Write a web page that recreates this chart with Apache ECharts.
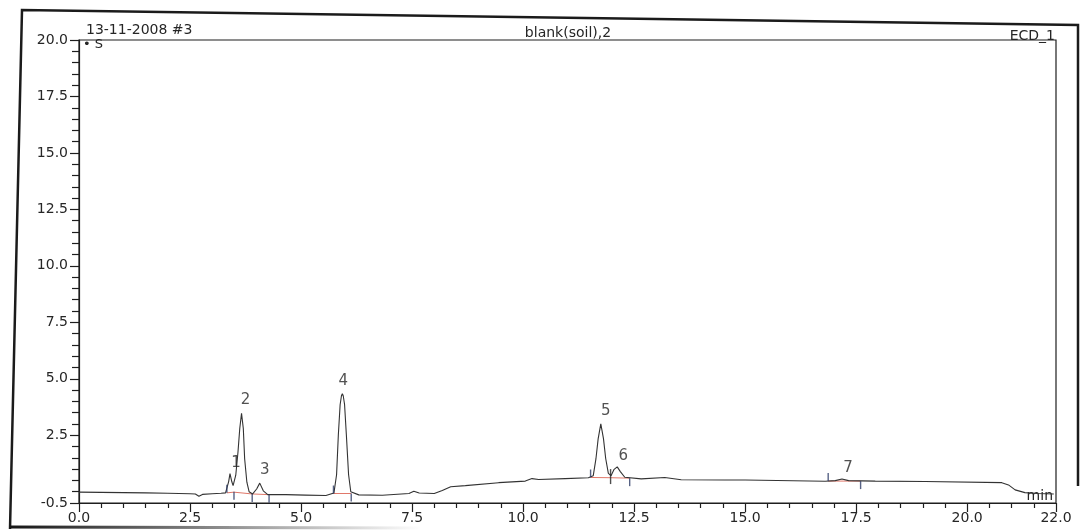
<!DOCTYPE html>
<html>
<head>
<meta charset="utf-8">
<title>blank(soil),2</title>
<script src="https://cdn.jsdelivr.net/npm/echarts@6/dist/echarts.min.js"></script>
<style>
html, body { margin: 0; padding: 0; background: #fff; }
#chromatogram { width: 1081px; height: 530px; }
</style>
</head>
<body>
<div id="chromatogram"></div>
<script>
// trace (min / signal)
var retentionTime = [0.00, 0.50, 1.00, 1.50, 2.00, 2.50, 2.62, 2.70, 2.78, 3.00, 3.20, 3.30,
    3.37, 3.40, 3.44, 3.47, 3.53, 3.58, 3.62, 3.66, 3.70, 3.73, 3.78, 3.83, 3.91,
    4.00, 4.07, 4.15, 4.25, 4.66, 5.10, 5.56, 5.74, 5.80, 5.84, 5.88, 5.91, 5.93, 5.95,
    5.98, 6.02, 6.07, 6.12, 6.30, 6.83, 7.43, 7.54, 7.66, 8.00, 8.18, 8.37, 8.70,
    9.45, 10.05, 10.20, 10.35, 10.95, 11.47, 11.58, 11.64, 11.69, 11.75, 11.81, 11.86,
    11.92, 11.98, 12.05, 12.12, 12.19, 12.29, 12.66, 13.19, 13.56, 14.53, 15.00, 16.80,
    17.03, 17.18, 17.33, 17.93, 19.05, 20.78, 20.93, 21.08, 21.30, 21.60, 21.95];
var signal = [-0.02, -0.03, -0.04, -0.05, -0.07, -0.09, -0.10, -0.20, -0.12, -0.09, -0.07, -0.05,
    0.45, 0.80, 0.45, 0.27, 0.73, 1.76, 2.80, 3.47, 2.80, 1.46, 0.42, 0.00, -0.10,
    0.12, 0.38, 0.04, -0.13, -0.13, -0.15, -0.17, -0.06, 0.75, 2.52, 3.85, 4.25, 4.34, 4.25,
    3.86, 2.53, 0.76, 0.00, -0.14, -0.16, -0.08, 0.02, -0.06, -0.08, 0.05, 0.22, 0.27,
    0.40, 0.47, 0.58, 0.54, 0.58, 0.62, 0.71, 1.45, 2.34, 3.00, 2.35, 1.47,
    0.81, 0.71, 0.99, 1.10, 0.89, 0.64, 0.57, 0.63, 0.53, 0.52, 0.52, 0.46,
    0.49, 0.56, 0.49, 0.47, 0.45, 0.40, 0.30, 0.08, -0.04, -0.08, -0.10];

var xTickLabels = [0, 2.5, 5, 7.5, 10, 12.5, 15, 17.5, 20, 22];
var yTickLabels = [-0.5, 2.5, 5, 7.5, 10, 12.5, 15, 17.5, 20];

var peakNames = ['1', '2', '3', '4', '5', '6', '7'];
var peakTime = [3.40, 3.66, 4.07, 5.93, 11.75, 12.12, 17.18];
var peakHeight = [0.80, 3.47, 0.38, 4.34, 3.00, 1.10, 0.56];

// integration marks and baselines
var startMarks = [[3.33, -0.05], [5.73, -0.08], [11.52, 0.63], [16.87, 0.47]];
var endMarks = [[3.49, 0.00], [3.90, -0.10], [4.28, -0.13], [6.13, -0.08], [12.40, 0.60], [17.60, 0.47]];
var splitMarks = [[11.97, 0.67]];
var baselines = [
    [[3.33, -0.05], [3.49, -0.02], [3.90, -0.10]],
    [[3.90, -0.10], [4.28, -0.13]],
    [[5.73, -0.08], [6.13, -0.08]],
    [[11.52, 0.63], [11.97, 0.62], [12.40, 0.60]],
    [[16.87, 0.47], [17.60, 0.47]]
];

var labelOffset = [[6, -11], [4, -13], [5, -13], [1, -13], [5, -13], [6, -11], [6, -11]];

var ink = '#262626';
var font = 'DejaVu Sans';

function minorTicks(lo, hi, step, majors) {
    var out = [];
    for (var v = lo; v <= hi + 1e-9; v += step) {
        var r = Math.round(v * 10) / 10;
        if (majors.indexOf(r) < 0) out.push(r);
    }
    return out;
}

var chart = echarts.init(document.getElementById('chromatogram'));

var series = [{
    type: 'line',
    data: retentionTime.map(function (t, i) { return [t, signal[i]]; }),
    showSymbol: false,
    lineStyle: { color: '#333', width: 1.1 },
    z: 4
}];

baselines.forEach(function (seg) {
    series.push({
        type: 'line',
        data: seg,
        showSymbol: false,
        lineStyle: { color: '#e0786a', width: 1 },
        z: 3
    });
});

series.push({
    type: 'scatter',
    data: startMarks,
    symbol: 'rect',
    symbolSize: [1.4, 8],
    symbolOffset: [0, -4],
    itemStyle: { color: '#2d3b66' },
    z: 5
});
series.push({
    type: 'scatter',
    data: endMarks,
    symbol: 'rect',
    symbolSize: [1.4, 8],
    symbolOffset: [0, 4],
    itemStyle: { color: '#2d3b66' },
    z: 5
});
series.push({
    type: 'scatter',
    data: splitMarks,
    symbol: 'rect',
    symbolSize: [1.4, 15],
    itemStyle: { color: '#222' },
    z: 5
});

series.push({
    type: 'scatter',
    data: peakTime.map(function (t, i) {
        return {
            value: [t, peakHeight[i]],
            name: peakNames[i],
            label: { offset: labelOffset[i] }
        };
    }),
    symbolSize: 1,
    itemStyle: { color: 'rgba(0,0,0,0)' },
    label: {
        show: true,
        position: 'inside',
        formatter: '{b}',
        fontFamily: font,
        fontSize: 15,
        color: ink
    },
    z: 6
});

var axisInk = { color: '#1e1e1e', width: 1.2 };

var option = {
    backgroundColor: '#fff',
    animation: false,
    grid: {
        left: 79,
        top: 40,
        width: 977,
        height: 463,
        show: true,
        borderColor: '#1e1e1e',
        borderWidth: 1.2,
        backgroundColor: 'transparent'
    },
    xAxis: [{
        type: 'value',
        min: 0,
        max: 22,
        position: 'bottom',
        axisLine: { show: true, onZero: false, lineStyle: axisInk },
        axisTick: { show: true, customValues: xTickLabels, length: 9, lineStyle: axisInk },
        axisLabel: {
            customValues: xTickLabels,
            formatter: function (v) { return v.toFixed(1); },
            margin: 8,
            fontFamily: font,
            fontSize: 14,
            color: ink
        },
        splitLine: { show: false }
    }, {
        type: 'value',
        min: 0,
        max: 22,
        position: 'bottom',
        axisLine: { show: false, onZero: false },
        axisTick: { show: true, customValues: minorTicks(0, 22, 0.5, xTickLabels), length: 5, lineStyle: axisInk },
        axisLabel: { show: false },
        splitLine: { show: false }
    }],
    yAxis: [{
        type: 'value',
        min: -0.5,
        max: 20,
        position: 'left',
        axisLine: { show: true, onZero: false, lineStyle: axisInk },
        axisTick: { show: true, customValues: yTickLabels, length: 9, lineStyle: axisInk },
        axisLabel: {
            customValues: yTickLabels,
            formatter: function (v) { return v.toFixed(1); },
            margin: 11,
            fontFamily: font,
            fontSize: 14,
            color: ink
        },
        splitLine: { show: false }
    }, {
        type: 'value',
        min: -0.5,
        max: 20,
        position: 'left',
        axisLine: { show: false, onZero: false },
        axisTick: { show: true, customValues: minorTicks(-0.5, 20, 0.5, yTickLabels), length: 7, lineStyle: axisInk },
        axisLabel: { show: false },
        splitLine: { show: false }
    }],
    graphic: [
        // scanned page edge
        {
            type: 'polyline',
            shape: { points: [[1078, 486], [1078, 25], [22, 10], [10, 529]] },
            style: { stroke: '#1b1b1b', lineWidth: 2.5, fill: null }
        },
        {
            type: 'line',
            shape: { x1: 10, y1: 527, x2: 420, y2: 528 },
            style: {
                lineWidth: 3,
                stroke: new echarts.graphic.LinearGradient(0, 0, 1, 0, [
                    { offset: 0, color: 'rgba(20,20,20,1)' },
                    { offset: 1, color: 'rgba(20,20,20,0)' }
                ])
            }
        },
        {
            type: 'text', x: 86, y: 30,
            style: { text: '13-11-2008 #3', font: '14px "DejaVu Sans"', fill: ink, textAlign: 'left', textVerticalAlign: 'middle' }
        },
        {
            type: 'text', x: 568, y: 33,
            style: { text: 'blank(soil),2', font: '14px "DejaVu Sans"', fill: ink, textAlign: 'center', textVerticalAlign: 'middle' }
        },
        {
            type: 'text', x: 1055, y: 36,
            style: { text: 'ECD_1', font: '14px "DejaVu Sans"', fill: ink, textAlign: 'right', textVerticalAlign: 'middle' }
        },
        {
            type: 'text', x: 83, y: 45,
            style: { text: '\u2022 S', font: '13px "DejaVu Sans"', fill: ink, textAlign: 'left', textVerticalAlign: 'middle' }
        },
        {
            type: 'text', x: 1053, y: 496,
            style: { text: 'min', font: '14px "DejaVu Sans"', fill: ink, textAlign: 'right', textVerticalAlign: 'middle' }
        }
    ],
    series: series
};

chart.setOption(option);
</script>
</body>
</html>
